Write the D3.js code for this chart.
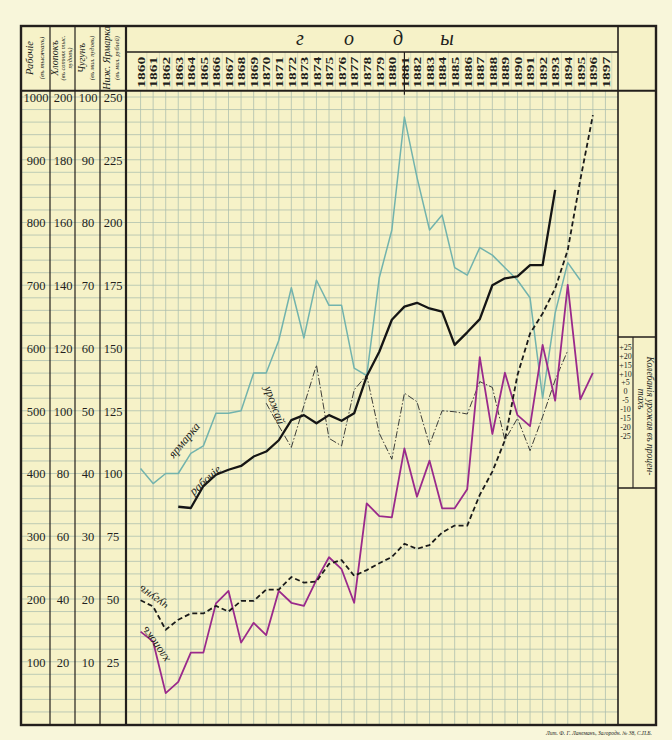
<!DOCTYPE html>
<html><head><meta charset="utf-8">
<script src="https://cdn.jsdelivr.net/npm/d3@7"></script>
<style>body{margin:0;background:#f7f4d3;} svg{display:block;}</style>
</head><body><svg id="c" width="672" height="740"></svg>
<script>
// ---------- data ----------
const yearLabels = [1860,1861,1862,1863,1864,1865,1866,1867,1868,1869,1870,1871,1872,1873,1874,1875,1876,1877,1878,1879,1880,1881,1882,1883,1884,1885,1886,1887,1888,1889,1890,1891,1892,1893,1894,1895,1896,1897];
const workerTicks = [100,200,300,400,500,600,700,800,900,1000];
const cottonTicks = [20,40,60,80,100,120,140,160,180,200];
const ironTicks   = [10,20,30,40,50,60,70,80,90,100];
const fairTicks   = [25,50,75,100,125,150,175,200,225,250];
const harvestTicks = ["+25","+20","+15","+10","+5","0","-5","-10","-15","-20","-25"];
const harvestTickValues = [25,20,15,10,5,0,-5,-10,-15,-20,-25];

// Рабочіе (thousands), 1863–1893
const workersStart = 1863;
const workers = [347,345,380,398,406,412,427,435,453,485,493,480,493,484,496,555,594,645,666,672,663,658,605,625,646,700,711,714,732,732,852];
// Ниж. Ярмарка (mil. rubles), 1860–1895
const fairStart = 1860;
const fair = [102,96,100,100,108,111,124,124,125,140,140,153,174,154,177,167,167,142,139,178,197,242,218,197,203,182,179,190,187,182,177,170,130,164,184,177];
// Чугунъ (mil. poods), 1860–1896
const ironStart = 1860;
const iron = [19.8,18.8,15.1,16.7,17.7,17.7,18.9,18.0,19.7,19.7,21.5,21.5,23.5,22.6,22.8,25.6,26.2,23.7,24.6,25.7,26.7,28.8,28.0,28.6,30.6,31.7,31.7,36.6,40.3,45.3,55.7,62.3,65.5,69.5,75.6,86.8,97.1];
// Хлопокъ (hundred thousand poods), 1860–1896
const cottonStart = 1860;
const cotton = [29.6,26.4,10,13.6,22.9,22.9,38.6,42.6,26.1,32.4,28.5,42.6,38.8,37.8,46.1,53.3,49.5,38.8,70.5,66.4,66.0,88.0,72.6,84.1,68.9,68.9,75.0,117.1,92.6,112.1,98.6,95.1,121.0,103.2,140.1,103.6,112.1];
// Урожай (harvest deviation, %), 1870–1894
const harvestStart = 1870;
const harvest = [3,-6,-14.6,2,18.2,-11,-14,8.3,14.2,-9,-19.3,7,3.6,-13.6,0,-0.4,-1.3,11.6,9.3,-11.7,-3,-15.9,-2.4,12.3,24];

// ---------- layout ----------
const svg = d3.select("#c");
const W = 672, H = 740;
const L = 21, R = 656, T = 26, B = 725;
const plotL = 126, plotR = 618, headMid = 52, plotT = 90.7;
const ink = "#231f1c", gridCol = "#a3b8ab";
const serif = "'Liberation Serif','DejaVu Serif',serif";

svg.append("rect").attr("width", W).attr("height", H).attr("fill", "#f8f6da");
svg.append("rect").attr("x", L).attr("y", T).attr("width", R - L).attr("height", B - T).attr("fill", "#f6f2c8");

const x = d3.scaleLinear().domain([1859, 1898]).range([128, 618]);
const yW = d3.scaleLinear().domain([0, 1000]).range([724.5, 97]);
const yC = d3.scaleLinear().domain([0, 200]).range(yW.range());
const yI = d3.scaleLinear().domain([0, 100]).range(yW.range());
const yF = d3.scaleLinear().domain([0, 250]).range(yW.range());
const yH = d3.scaleLinear().domain([-25, 25]).range([yW(400), yW(600)]);
const yPanel = d3.scaleLinear().domain([25, -25]).range([347, 436]);

// ---------- grid ----------
const grid = svg.append("g").attr("stroke", gridCol).attr("stroke-width", 0.75).attr("opacity", 0.9);
grid.selectAll("line.v").data(yearLabels).join("line")
  .attr("x1", d => x(d)).attr("x2", d => x(d)).attr("y1", plotT).attr("y2", B);
const hVals = d3.range(20, 1001, 20);
grid.selectAll("line.h").data(hVals).join("line")
  .attr("x1", L).attr("x2", plotR).attr("y1", d => yW(d)).attr("y2", d => yW(d));
// faint separators in the year row
svg.append("g").attr("stroke", "#bcc4b0").attr("stroke-width", 0.5)
  .selectAll("line").data(yearLabels).join("line")
  .attr("x1", d => x(d) + 6.3).attr("x2", d => x(d) + 6.3).attr("y1", headMid).attr("y2", plotT);

// ---------- frame ----------
const fr = svg.append("g").attr("stroke", ink).attr("fill", "none");
fr.append("rect").attr("x", L).attr("y", T).attr("width", R - L).attr("height", B - T).attr("stroke-width", 2.4);
[[50,1.2],[75,1.2],[100,1.2],[plotL,2.2],[plotR,1.6]].forEach(([xx, w]) =>
  fr.append("line").attr("x1", xx).attr("x2", xx).attr("y1", T).attr("y2", B).attr("stroke-width", w));
fr.append("line").attr("x1", plotL).attr("x2", plotR).attr("y1", headMid).attr("y2", headMid).attr("stroke-width", 1.6);
fr.append("line").attr("x1", L).attr("x2", R).attr("y1", plotT).attr("y2", plotT).attr("stroke-width", 2);
fr.append("line").attr("x1", x(1881)).attr("x2", x(1881)).attr("y1", headMid).attr("y2", plotT + 4).attr("stroke-width", 1.2);
// right panel box
fr.append("line").attr("x1", plotR).attr("x2", R).attr("y1", 337).attr("y2", 337).attr("stroke-width", 1.5);
fr.append("line").attr("x1", plotR).attr("x2", R).attr("y1", 488).attr("y2", 488).attr("stroke-width", 1.5);
fr.append("line").attr("x1", 633).attr("x2", 633).attr("y1", 337).attr("y2", 488).attr("stroke-width", 1.1);

// ---------- axes (value columns) ----------
function colAxis(scale, ticks, cx) {
  const g = svg.append("g").attr("transform", `translate(${cx},0)`)
    .call(d3.axisLeft(scale).tickValues(ticks).tickSize(0).tickPadding(0).tickFormat(d3.format("d")));
  g.select(".domain").remove();
  g.selectAll("text").attr("x", 0).attr("text-anchor", "middle")
    .attr("font-family", serif).attr("font-size", 12.5).attr("fill", ink).attr("dy", "0.35em");
}
colAxis(yW, workerTicks, 36);
colAxis(yC, cottonTicks, 63);
colAxis(yI, ironTicks, 88);
colAxis(yF, fairTicks, 113);

// years header
const ya = svg.append("g").attr("transform", `translate(0,${plotT - 3})`)
  .call(d3.axisTop(x).tickValues(yearLabels).tickSize(0).tickPadding(0).tickFormat(d3.format("d")));
ya.select(".domain").remove();
ya.selectAll(".tick text")
  .attr("transform", "rotate(-90)").attr("x", 0).attr("y", 0).attr("dy", "0.36em")
  .attr("text-anchor", "start").attr("textLength", 31).attr("lengthAdjust", "spacingAndGlyphs")
  .attr("font-family", serif).attr("font-size", 10.5).attr("font-weight", "bold").attr("fill", ink);

// "г о д ы"
const godLetters = ["г","о","д","ы"];
svg.append("g").selectAll("text").data(godLetters).join("text")
  .attr("x", (d, i) => 300 + i * 49).attr("y", 45)
  .attr("text-anchor", "middle").attr("font-family", serif).attr("font-style", "italic")
  .attr("font-size", 20).attr("fill", ink).text(d => d);

// column headers (rotated)
const colHeads = [
  {x: 30, t: "Рабочіе", s: 10.5}, {x: 41, t: "(въ тысячахъ)", s: 7},
  {x: 55, t: "Хлопокъ", s: 10}, {x: 62, t: "(въ сотнях тыс.", s: 6.5}, {x: 69, t: "пудовъ)", s: 6.5},
  {x: 82, t: "Чугунъ", s: 10}, {x: 91, t: "(въ мил. пудовъ)", s: 6.5},
  {x: 107, t: "Ниж. Ярмарка", s: 10}, {x: 116, t: "(въ мил. рублей)", s: 6.5}
];
svg.append("g").selectAll("text").data(colHeads).join("text")
  .attr("transform", d => `translate(${d.x + 3},58) rotate(-90)`)
  .attr("text-anchor", "middle").attr("font-family", serif).attr("font-style", "italic")
  .attr("font-size", d => d.s).attr("fill", ink).text(d => d.t);

// right panel
svg.append("g").selectAll("text").data(harvestTickValues).join("text")
  .attr("x", 625.5).attr("y", d => yPanel(d)).attr("dy", "0.35em")
  .attr("text-anchor", "middle").attr("font-family", serif).attr("font-size", 8).attr("fill", ink)
  .text((d, i) => harvestTicks[i]);
svg.append("text").attr("transform", "translate(647,416) rotate(90)").attr("text-anchor", "middle")
  .attr("font-family", serif).attr("font-style", "italic").attr("font-size", 9.5).attr("fill", ink)
  .text("Колебанія урожая въ процен-");
svg.append("text").attr("transform", "translate(638,399) rotate(90)").attr("text-anchor", "middle")
  .attr("font-family", serif).attr("font-style", "italic").attr("font-size", 9.5).attr("fill", ink)
  .text("тахъ");

// ---------- series ----------
function series(vals, start, scale, style) {
  const line = d3.line().x((d, i) => x(start + i)).y(d => scale(d));
  const p = svg.append("path").datum(vals).attr("d", line).attr("fill", "none")
    .attr("stroke-linejoin", "round");
  Object.entries(style).forEach(([k, v]) => p.attr(k, v));
}
series(fair, fairStart, yF, {stroke: "#72b3ad", "stroke-width": 1.5});
series(harvest, harvestStart, yH, {stroke: "#2a2a2a", "stroke-width": 0.9, "stroke-dasharray": "7,2,1.5,2"});
series(cotton, cottonStart, yC, {stroke: "#9a2a8b", "stroke-width": 1.8});
series(iron, ironStart, yI, {stroke: "#1a1a1a", "stroke-width": 1.8, "stroke-dasharray": "5,3"});
series(workers, workersStart, yW, {stroke: "#151515", "stroke-width": 2.3});

// ---------- line labels ----------
const lineLabels = [
  {t: "ярмарка", x: 184, y: 440, r: -50},
  {t: "рабочіе", x: 205, y: 480, r: -42},
  {t: "урожай", x: 275, y: 405, r: 70},
  {t: "чугунъ", x: 153, y: 598, r: 215},
  {t: "хлопокъ", x: 155, y: 645, r: 235}
];
svg.append("g").selectAll("text").data(lineLabels).join("text")
  .attr("transform", d => `translate(${d.x},${d.y}) rotate(${d.r})`)
  .attr("text-anchor", "middle").attr("dy", "0.35em")
  .attr("font-family", serif).attr("font-style", "italic").attr("font-size", 12).attr("fill", ink)
  .text(d => d.t);

// credit
svg.append("text").attr("x", 652).attr("y", 735).attr("text-anchor", "end")
  .attr("font-family", serif).attr("font-style", "italic").attr("font-size", 5.5).attr("fill", ink)
  .text("Лит. Ф. Г. Ланеманъ, Загородн. № 38, С.П.Б.");
</script>
</body></html>
